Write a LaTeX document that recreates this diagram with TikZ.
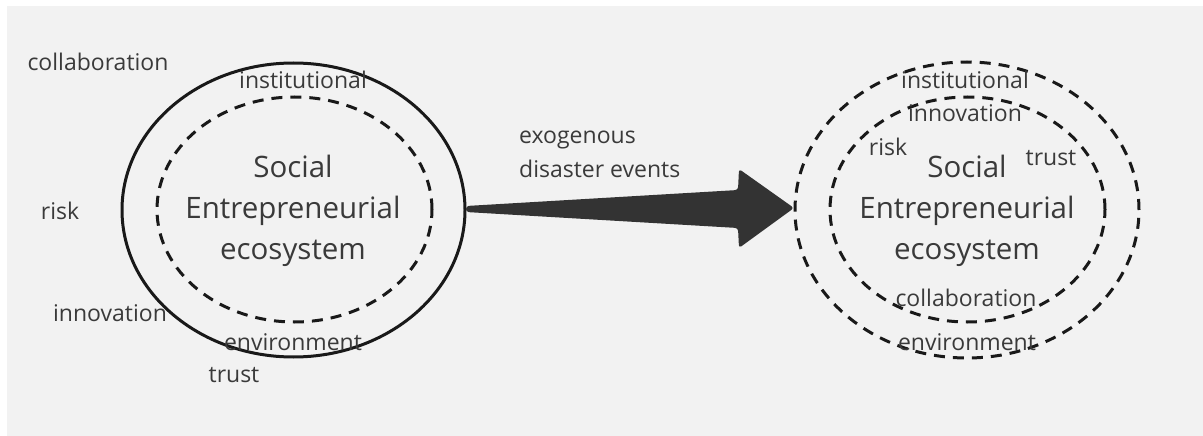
\documentclass[tikz,border=0pt]{standalone}
\usepackage{fontspec}
\setmainfont{Open Sans}
\usetikzlibrary{calc}
\definecolor{bg}{HTML}{F2F2F2}
\definecolor{ink}{HTML}{333333}
\definecolor{txt}{HTML}{3A3A3A}
\tikzset{
  ring/.style={draw=black!90, line width=3pt},
  dashring/.style={ring, dash pattern=on 11pt off 8pt},
  word/.style={text=txt, font=\fontsize{23}{26}\selectfont, inner sep=0pt},
  core/.style={text=txt, font=\fontsize{29.5}{41}\selectfont, align=center, inner sep=0pt},
}
\begin{document}
\begin{tikzpicture}[x=1pt, y=-1pt]
\useasboundingbox (0,0) rectangle (1203,436);
\fill[white] (0,0) rectangle (1203,436);
\fill[bg] (7,6) rectangle (1203,436);

% left ecosystem
\coordinate (L) at (293.5,210);
\draw[ring] (L) ellipse [x radius=171.5pt, y radius=147pt];
\draw[dashring] (294.5,209.5) ellipse [x radius=137.5pt, y radius=112.5pt];
\node[core] (lcore) at (293,211) {Social\\Entrepreneurial\\ecosystem};
\node[word] (linst) at (303,80) {institutional};
\node[word] (lenv) at (293,342) {environment};
\node[word] (lcol) at (98,62) {collaboration};
\node[word] (lrisk) at (60,211) {risk};
\node[word] (linn) at (110,313) {innovation};
\node[word] (ltrust) at (234,375) {trust};

% right ecosystem
\coordinate (R) at (967,210);
\draw[dashring] (R) ellipse [x radius=172pt, y radius=148pt];
\draw[dashring] (967.5,209.5) ellipse [x radius=137.5pt, y radius=112.5pt];
\node[core] (rcore) at (967,211) {Social\\Entrepreneurial\\ecosystem};
\node[word] (rinst) at (965,80) {institutional};
\node[word] (rinn) at (965,113) {innovation};
\node[word] (rrisk) at (888,147) {risk};
\node[word] (rtrust) at (1051,158) {trust};
\node[word] (rcol) at (966,298) {collaboration};
\node[word] (renv) at (967,342) {environment};

% tapered arrow between the two ecosystems
\coordinate (tail) at (466,209);
\coordinate (tip) at (794,208);
\fill[ink, rounded corners=3pt]
  ($(tail)+(0,-3)$) -- (738,190) -- (739,169) -- (tip)
  -- (739,248) -- (738,228) -- ($(tail)+(0,3)$) -- cycle;
\node[word, anchor=west, align=left, font=\fontsize{23}{34}\selectfont] (lab) at (519,154) {exogenous\\disaster events};
\end{tikzpicture}
\end{document}
